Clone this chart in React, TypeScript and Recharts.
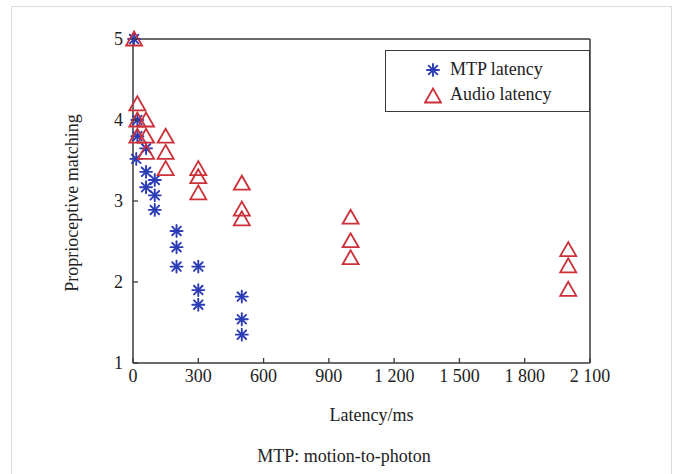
import { ScatterChart, Scatter, XAxis, YAxis, Legend, Label } from "recharts";

// latency (ms) vs. proprioceptive matching score
const mtpLatency = [5, 20, 20, 15, 60, 60, 60, 100, 100, 100, 200, 200, 200, 300, 300, 300, 500, 500, 500];
const mtpScore = [5.0, 4.0, 3.8, 3.52, 3.65, 3.36, 3.17, 3.26, 3.07, 2.89, 2.63, 2.43, 2.19, 2.19, 1.9, 1.72, 1.82, 1.54, 1.35];

const audioLatency = [5, 20, 20, 60, 20, 60, 60, 150, 150, 150, 300, 300, 300, 500, 500, 500, 1000, 1000, 1000, 2000, 2000, 2000];
const audioScore = [5.0, 4.2, 4.0, 4.0, 3.8, 3.8, 3.6, 3.8, 3.6, 3.4, 3.4, 3.3, 3.1, 3.22, 2.9, 2.78, 2.8, 2.51, 2.3, 2.4, 2.2, 1.91];

const xTicks = [0, 300, 600, 900, 1200, 1500, 1800, 2100];
const yTicks = [1, 2, 3, 4, 5];

const seriesNames = ["MTP latency", "Audio latency"];

const BLUE = "#2b3cb5";
const RED = "#cc3038";
const AXIS = "#3a3a3a";
const FONT = "'Liberation Serif', 'Times New Roman', serif";

const mtpData = mtpLatency.map((x, i) => ({ x, y: mtpScore[i] }));
const audioData = audioLatency.map((x, i) => ({ x, y: audioScore[i] }));

const fmtThousands = (v: number) =>
  String(v).replace(/\B(?=(\d{3})+(?!\d))/g, " ");

const Star = ({ cx, cy, r = 6 }: any) => {
  const d = r * 0.72;
  return (
    <g stroke={BLUE} strokeWidth={1.9} strokeLinecap="round">
      <line x1={cx} y1={cy - r} x2={cx} y2={cy + r} />
      <line x1={cx - r} y1={cy} x2={cx + r} y2={cy} />
      <line x1={cx - d} y1={cy - d} x2={cx + d} y2={cy + d} />
      <line x1={cx - d} y1={cy + d} x2={cx + d} y2={cy - d} />
    </g>
  );
};

const Tri = ({ cx, cy }: any) => (
  <polygon
    points={`${cx},${cy - 7.5} ${cx - 8},${cy + 6.5} ${cx + 8},${cy + 6.5}`}
    fill="none"
    stroke={RED}
    strokeWidth={1.8}
    strokeLinejoin="miter"
  />
);

const BottomTick = ({ x, y, payload }: any) => (
  <g>
    <line x1={x} y1={y} x2={x} y2={y - 5} stroke={AXIS} strokeWidth={1.3} />
    <text x={x} y={y + 19} textAnchor="middle" fontSize={18} fontFamily={FONT} fill="#222">
      {fmtThousands(payload.value)}
    </text>
  </g>
);

const LeftTick = ({ x, y, payload }: any) => (
  <g>
    <line x1={x} y1={y} x2={x + 5} y2={y} stroke={AXIS} strokeWidth={1.3} />
    <text x={x - 10} y={y + 6} textAnchor="end" fontSize={18} fontFamily={FONT} fill="#222">
      {payload.value}
    </text>
  </g>
);

const TopTick = ({ x, y }: any) => (
  <line x1={x} y1={y} x2={x} y2={y + 5} stroke={AXIS} strokeWidth={1.3} />
);

const RightTick = ({ x, y }: any) => (
  <line x1={x} y1={y} x2={x - 5} y2={y} stroke={AXIS} strokeWidth={1.3} />
);

const LegendBox = () => (
  <div
    style={{
      width: 205,
      height: 62,
      border: `1.5px solid ${AXIS}`,
      background: "#fff",
      boxSizing: "border-box",
      fontFamily: FONT,
      fontSize: 18,
      color: "#222",
      paddingTop: 6,
    }}
  >
    {seriesNames.map((name, i) => (
      <div key={name} style={{ display: "flex", alignItems: "center", height: 25, paddingLeft: 38 }}>
        <svg width={18} height={18} style={{ marginRight: 8 }}>
          {i === 0 ? <Star cx={9} cy={9} /> : <Tri cx={9} cy={10} />}
        </svg>
        <span>{name}</span>
      </div>
    ))}
  </div>
);

export default function App() {
  return (
    <div style={{ position: "absolute", left: 0, top: 0, width: 682, height: 474, background: "#fff", overflow: "hidden" }}>
      <div
        style={{
          position: "absolute",
          left: 11,
          top: 6,
          width: 661,
          height: 480,
          border: "1px solid #dcdcdc",
          boxSizing: "border-box",
        }}
      />
      <ScatterChart width={682} height={474} margin={{ top: 38, right: 91, bottom: 110, left: 132 }}>
        <XAxis
          xAxisId="bottom"
          dataKey="x"
          type="number"
          domain={[0, 2100]}
          ticks={xTicks}
          height={1}
          tickSize={0}
          tickMargin={0}
          tick={<BottomTick />}
          tickLine={false}
          axisLine={{ stroke: AXIS, strokeWidth: 1.5 }}
          interval={0}
        >
          <Label
            content={({ viewBox }: any) => (
              <text
                x={viewBox.x + viewBox.width / 2 + 10}
                y={viewBox.y + 58}
                textAnchor="middle"
                fontSize={18}
                fontFamily={FONT}
                fill="#222"
              >
                Latency/ms
              </text>
            )}
          />
        </XAxis>
        <XAxis
          xAxisId="top"
          orientation="top"
          type="number"
          domain={[0, 2100]}
          ticks={xTicks}
          height={1}
          tickSize={0}
          tickMargin={0}
          tick={<TopTick />}
          tickLine={false}
          axisLine={{ stroke: AXIS, strokeWidth: 1.5 }}
          interval={0}
        />
        <YAxis
          yAxisId="left"
          dataKey="y"
          type="number"
          domain={[1, 5]}
          ticks={yTicks}
          width={1}
          tickSize={0}
          tickMargin={0}
          tick={<LeftTick />}
          tickLine={false}
          axisLine={{ stroke: AXIS, strokeWidth: 1.5 }}
          interval={0}
        >
          <Label
            content={({ viewBox }: any) => {
              const cx = viewBox.x - 60;
              const cy = viewBox.y + viewBox.height / 2 + 2;
              return (
                <text
                  x={cx}
                  y={cy}
                  transform={`rotate(-90, ${cx}, ${cy})`}
                  textAnchor="middle"
                  dominantBaseline="central"
                  fontSize={18}
                  fontFamily={FONT}
                  fill="#222"
                >
                  Proprioceptive matching
                </text>
              );
            }}
          />
        </YAxis>
        <YAxis
          yAxisId="right"
          orientation="right"
          type="number"
          domain={[1, 5]}
          ticks={yTicks}
          width={1}
          tickSize={0}
          tickMargin={0}
          tick={<RightTick />}
          tickLine={false}
          axisLine={{ stroke: AXIS, strokeWidth: 1.5 }}
          interval={0}
        />
        <Legend
          content={<LegendBox />}
          layout="horizontal"
          verticalAlign="middle"
          align="center"
          wrapperStyle={{ left: 385, top: 50, width: 205, height: 62 }}
        />
        <Scatter
          name={seriesNames[0]}
          data={mtpData}
          xAxisId="bottom"
          yAxisId="left"
          shape={(p: any) => <Star cx={p.cx} cy={p.cy} />}
          isAnimationActive={false}
        />
        <Scatter
          name={seriesNames[1]}
          data={audioData}
          xAxisId="bottom"
          yAxisId="left"
          shape={(p: any) => <Tri cx={p.cx} cy={p.cy} />}
          isAnimationActive={false}
        />
      </ScatterChart>
      <div
        style={{
          position: "absolute",
          left: 0,
          width: 688,
          top: 446,
          textAlign: "center",
          fontFamily: FONT,
          fontSize: 18,
          color: "#222",
        }}
      >
        MTP: motion-to-photon
      </div>
    </div>
  );
}
